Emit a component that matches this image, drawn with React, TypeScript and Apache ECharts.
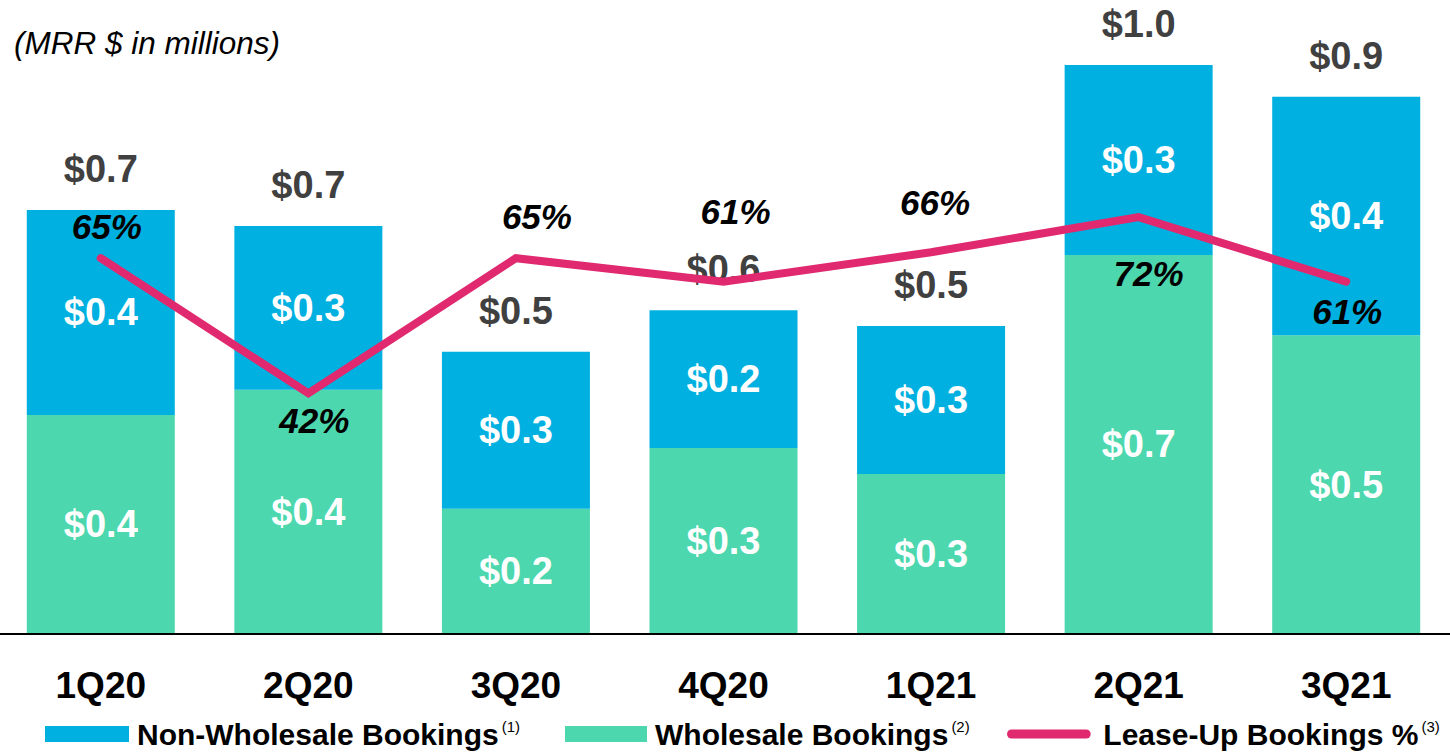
import React, { useEffect, useRef } from 'react';
import * as echarts from 'echarts';

// ---- data ----
const categories = ['1Q20', '2Q20', '3Q20', '4Q20', '1Q21', '2Q21', '3Q21'];
const wholesale = [0.385, 0.429, 0.22, 0.327, 0.281, 0.666, 0.525];
const nonWholesale = [0.36, 0.288, 0.276, 0.242, 0.26, 0.334, 0.419];
const leaseUpPct = [65, 42, 65, 61, 66, 72, 61];
const legendNames = ['Non-Wholesale Bookings', 'Wholesale Bookings', 'Lease-Up Bookings %'];
const footnotes = ['(1)', '(2)', '(3)'];

// ---- layout constants ----
const SHIFT = 3; // chart canvas starts 3px left of the page edge
const pctLabelOffsets = [[6, -32], [6, 27], [21, -42], [12, -70], [4, -50], [10, 56], [1, 30]];
const legendLeft = [45 + SHIFT, 565 + SHIFT, 1007 + SHIFT];
const legendIconW = [84, 82, 93];

const FONT = '"Liberation Sans", Arial, Helvetica, sans-serif';
const BLUE = '#00B0E0';
const GREEN = '#4CD7AE';
const PINK = '#E0296F';

export default function App() {
  const ref = useRef<HTMLDivElement>(null);
  useEffect(() => {
    if (!ref.current) return;
    const chart = echarts.init(ref.current, null, { renderer: 'svg' });
    const totals = wholesale.map((w, i) => w + nonWholesale[i]);
    const capsule = 'path://M5,0H88A5,5,0,0,1,88,10H5A5,5,0,0,1,5,0Z';
    const option: any = {
      animation: false,
      textStyle: { fontFamily: FONT },
      title: {
        text: '(MRR $ in millions)',
        left: 14 + SHIFT,
        top: 27,
        padding: 0,
        textStyle: { fontFamily: FONT, fontSize: 31.5, fontStyle: 'italic', fontWeight: 'normal', color: '#000' },
      },
      legend: legendNames.map((name, i) => ({
        data: [{ name, icon: i === 2 ? capsule : 'rect' }],
        left: legendLeft[i],
        top: 719,
        padding: 0,
        itemWidth: legendIconW[i],
        itemHeight: i === 2 ? 9 : 16,
        selectedMode: false,
        formatter: (n: string) => `{t|${n}}{s|${footnotes[i]}}`,
        textStyle: {
          rich: {
            t: { fontFamily: FONT, fontSize: 30, fontWeight: 'bold', color: '#000', padding: [0, 0, 0, 3] },
            s: { fontFamily: FONT, fontSize: 15, color: '#000', verticalAlign: 'top', padding: [0, 0, 0, 3] },
          },
        },
      })),
      grid: { left: 0, right: 0, top: 8, bottom: 119, containLabel: false },
      xAxis: {
        type: 'category',
        data: categories,
        z: 10,
        axisLine: { show: true, lineStyle: { color: '#000', width: 2 } },
        axisTick: { show: false },
        axisLabel: { fontFamily: FONT, fontSize: 37, fontWeight: 'bold', color: '#000', margin: 33 },
      },
      yAxis: [
        { type: 'value', min: 0, max: 1.1, show: false },
        { type: 'value', min: 1, max: 107.6, show: false },
      ],
      series: [
        {
          name: 'Wholesale Bookings',
          type: 'bar',
          stack: 'b',
          barWidth: 148,
          data: wholesale,
          itemStyle: { color: GREEN },
          label: {
            show: true,
            position: 'inside',
            formatter: (p: any) => '$' + Number(p.value).toFixed(1),
            fontFamily: FONT,
            fontSize: 38,
            fontWeight: 'bold',
            color: '#fff',
          },
        },
        {
          name: 'Non-Wholesale Bookings',
          type: 'bar',
          stack: 'b',
          barWidth: 148,
          data: nonWholesale,
          itemStyle: { color: BLUE },
          label: {
            show: true,
            position: 'inside',
            formatter: (p: any) => '$' + Number(p.value).toFixed(1),
            fontFamily: FONT,
            fontSize: 38,
            fontWeight: 'bold',
            color: '#fff',
          },
        },
        {
          name: 'total',
          type: 'bar',
          stack: 'b',
          barWidth: 148,
          silent: true,
          data: categories.map(() => 0),
          itemStyle: { color: 'rgba(0,0,0,0)' },
          label: {
            show: true,
            position: 'top',
            distance: 22,
            formatter: (p: any) => '$' + totals[p.dataIndex].toFixed(1),
            fontFamily: FONT,
            fontSize: 38,
            fontWeight: 'bold',
            color: '#404040',
          },
        },
        {
          name: 'Lease-Up Bookings %',
          type: 'line',
          yAxisIndex: 1,
          z: 5,
          data: leaseUpPct.map((v, i) => ({ value: v, label: { offset: pctLabelOffsets[i] } })),
          symbol: 'circle',
          symbolSize: 1,
          itemStyle: { color: PINK },
          lineStyle: { color: PINK, width: 8, cap: 'round', join: 'miter' },
          label: {
            show: true,
            position: 'inside',
            formatter: '{c}%',
            fontFamily: FONT,
            fontSize: 35,
            fontStyle: 'italic',
            fontWeight: 'bold',
            color: '#000',
          },
        },
      ],
    };
    chart.setOption(option);
    return () => chart.dispose();
  }, []);
  return (
    <div
      ref={ref}
      style={{ position: 'absolute', left: -SHIFT, top: 0, width: 1450 + SHIFT, height: 753, background: '#fff' }}
    />
  );
}
